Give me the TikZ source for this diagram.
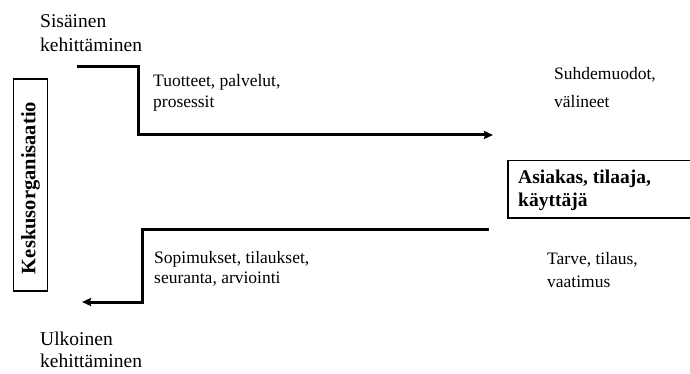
\documentclass[tikz,border=0pt]{standalone}
\usepackage{fontspec}
\setmainfont{Liberation Serif}
\usetikzlibrary{arrows.meta}
\begin{document}
\begin{tikzpicture}[x=1pt,y=-1pt,
  head/.style={anchor=base west,inner sep=0pt,align=left,font=\fontsize{19.5}{24}\selectfont},
  lbl/.style={anchor=base west,inner sep=0pt,align=left,font=\fontsize{17.5}{21}\selectfont},
  flow/.style={line width=3pt,-{Stealth[length=9pt,width=8pt,inset=1pt]}}]
\useasboundingbox (0,0) rectangle (690,374);
% left box
\node[draw,line width=1.5pt,minimum width=34pt,minimum height=212pt,inner sep=0pt] (org) at (30.5,185) {};
\node[rotate=90,inner sep=0pt,font=\bfseries\fontsize{20.5}{22}\selectfont] (orgtxt) at ([yshift=-3pt]org.center) {Keskusorganisaatio};
% right box
\node[draw,line width=1.5pt,anchor=north west,minimum width=184pt,minimum height=57pt,inner sep=0pt] (cust) at (507,160) {};
\node[anchor=base west,inner sep=0pt,align=left,font=\bfseries\fontsize{19.5}{23}\selectfont] (custtxt) at (518,206) {Asiakas, tilaaja,\\käyttäjä};
% texts (anchored at the baseline of their last line)
\node[head] (sis) at (40,52) {Sisäinen\\kehittäminen};
\node[head,font=\fontsize{19.5}{22}\selectfont] (ulk) at (40,367) {Ulkoinen\\kehittäminen};
\node[lbl] (tuo) at (153,108) {Tuotteet, palvelut,\\prosessit};
\node[lbl,font=\fontsize{17.5}{28}\selectfont] (suh) at (554,108) {Suhdemuodot,\\välineet};
\node[lbl,font=\fontsize{17.5}{20}\selectfont] (sop) at (154,283) {Sopimukset, tilaukset,\\seuranta, arviointi};
\node[lbl,font=\fontsize{17.5}{23}\selectfont] (tar) at (547,287) {Tarve, tilaus,\\vaatimus};
% connectors
\coordinate (a1) at (77,67);
\coordinate (a2) at (493,135);
\draw[flow] (a1) -| (138,135) -- (a2);
\coordinate (b1) at (489,229);
\coordinate (b2) at (82,302);
\draw[flow] (b1) -| (142,302) -- (b2);
\end{tikzpicture}
\end{document}
